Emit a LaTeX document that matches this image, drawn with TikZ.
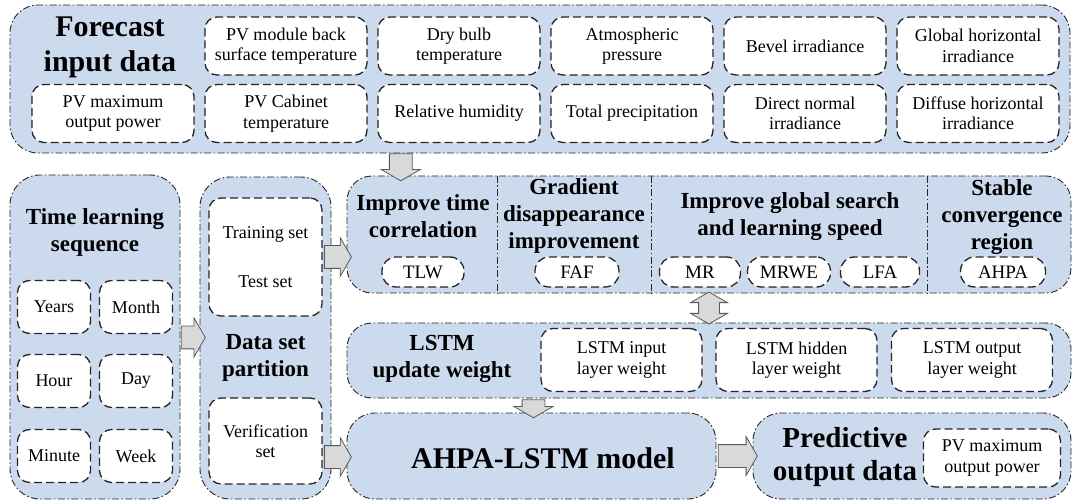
\documentclass[tikz,border=0pt]{standalone}
\usepackage{fontspec}
\setmainfont{LiberationSerif-Regular.ttf}[BoldFont=LiberationSerif-Bold.ttf]
\usepackage{xcolor}
\usepackage{tikz}
\usetikzlibrary{shapes.arrows,positioning,calc}
\definecolor{panelblue}{RGB}{204,218,238}
\definecolor{arrowgray}{RGB}{217,217,217}
\tikzset{
  panel/.style={draw=black!85, line width=0.9pt, fill=panelblue,
                dash pattern=on 7pt off 2.5pt on 1.5pt off 2.5pt,
                rounded corners=28pt, inner sep=0pt},
  item/.style={draw=black!85, line width=1.3pt, dash pattern=on 8pt off 4pt,
               fill=white, rounded corners=12pt, align=center, inner sep=0pt,
               font=\fontsize{18}{20.5}\selectfont},
  pill/.style={item, rounded corners=14pt, minimum height=30pt,
               font=\fontsize{19}{21}\selectfont},
  heading/.style={align=center, font=\bfseries\fontsize{23}{27}\selectfont},
  bigheading/.style={align=center, font=\bfseries\fontsize{30}{35}\selectfont},
  divider/.style={draw=black!85, line width=0.8pt,
                  dash pattern=on 7pt off 2.5pt on 1.5pt off 2.5pt},
  blockarrow/.style={single arrow, draw=black!65, fill=arrowgray, line width=0.8pt,
                     inner xsep=0pt, inner ysep=11pt, single arrow head extend=8pt,
                     single arrow tip angle=120},
  downarrow/.style={blockarrow, shape border rotate=270, inner xsep=11pt, inner ysep=0pt},
  twoarrow/.style={double arrow, draw=black!65, fill=arrowgray, line width=0.8pt,
                   shape border rotate=90, inner xsep=10pt, inner ysep=0pt,
                   double arrow head extend=8pt, double arrow tip angle=120}
}
\begin{document}
\begin{tikzpicture}[x=1pt, y=-1pt]
  \useasboundingbox (0,0) rectangle (1073,502);
  % panels
  \node[panel, minimum width=1060pt, minimum height=148pt] (fid) at (540,79) {};
  \node[panel, minimum width=170pt, minimum height=324pt, rounded corners=30pt] (tls) at (95,337) {};
  \node[panel, minimum width=131pt, minimum height=322pt, rounded corners=30pt] (dsp) at (265.5,338) {};
  \node[panel, minimum width=724pt, minimum height=117pt, rounded corners=25pt] (imp) at (709,234.5) {};
  \node[panel, minimum width=724pt, minimum height=75pt, rounded corners=25pt] (lstm) at (709,360.5) {};
  \node[panel, minimum width=369pt, minimum height=86pt] (model) at (531.5,456) {};
  \node[panel, minimum width=318pt, minimum height=86pt] (pred) at (912,456) {};

  % forecast input data
  \node[bigheading] (fidt) at (110,47) {Forecast\\input data};
  \foreach \n/\x/\t in {pvb/286/{PV module back\\surface temperature},
                        dbt/459/{Dry bulb\\temperature},
                        atp/632/{Atmospheric\\pressure},
                        bev/805/{Bevel irradiance},
                        ghi/978/{Global horizontal\\irradiance}}
    \node[item, minimum width=162pt, minimum height=58pt] (\n) at (\x,46) {\t};
  \foreach \n/\x/\t in {pvm/113/{PV maximum\\output power},
                        pvc/286/{PV Cabinet\\temperature},
                        rhu/459/{Relative humidity},
                        tpr/632/{Total precipitation},
                        dni/805/{Direct normal\\irradiance},
                        dhi/978/{Diffuse horizontal\\irradiance}}
    \node[item, minimum width=162pt, minimum height=58pt] (\n) at (\x,113.5) {\t};

  % time learning sequence
  \node[heading] (tlst) at (95,232) {Time learning\\sequence};
  \foreach \n/\x/\y/\t in {yrs/54/307/Years, mon/136/307/Month,
                           hou/54/381/Hour, day/136/381/Day,
                           min/54/456/Minute, wee/136/456/Week}
    \node[item, minimum width=73pt, minimum height=53pt] (\n) at (\x,\y) {\t};

  % data set partition
  \node[item, minimum width=113pt, minimum height=118pt] (train) at (265.5,257) {Training set\\[28pt]Test set};
  \node[heading] (dspt) at (265.5,358) {Data set\\partition};
  \node[item, minimum width=113pt, minimum height=86pt] (verif) at (265.5,441) {Verification\\set};

  % improvements
  \foreach \x in {497,651,927}
    \draw[divider] (\x,0 |- imp.north) -- (\x,0 |- imp.south);
  \node[heading] (tct) at (423,216) {Improve time\\correlation};
  \node[heading] (gdt) at (574,216) {Gradient\\disappearance\\improvement};
  \node[heading] (gst) at (790,217) {Improve global search\\and learning speed};
  \node[heading] (sct) at (1002,217) {Stable\\convergence\\region};
  \foreach \n/\x/\w/\t in {tlw/423/82/TLW, faf/577/84/FAF, mr/700/81/MR,
                           mrwe/789/83/MRWE, lfa/880/79/LFA, ahpa/1003/85/AHPA}
    \node[pill, minimum width=\w pt] (\n) at (\x,272) {\t};

  % lstm update weight
  \node[heading] (lstmt) at (442,359) {LSTM\\update weight};
  \foreach \n/\x/\t in {liw/621.5/{LSTM input\\layer weight},
                        lhw/796.5/{LSTM hidden\\layer weight},
                        low/972/{LSTM output\\layer weight}}
    \node[item, minimum width=161pt, minimum height=63pt] (\n) at (\x,360) {\t};

  % model and output
  \node[bigheading] (modelt) at (543,458) {AHPA-LSTM model};
  \node[align=center, font=\bfseries\fontsize{29}{33}\selectfont] (predt) at (845,457) {Predictive\\output data};
  \node[item, minimum width=137pt, minimum height=58pt] (pvo) at (992,458) {PV maximum\\output power};

  % block arrows
  \node[downarrow, minimum height=27pt] (a1) at ($(fid.south)!.5!(dsp.north)+(-2,-1)$) {};
  \node[blockarrow, minimum height=24pt] (a2) at ($(tls.east)!.5!(dsp.west)$) {};
  \node[blockarrow, minimum height=27pt] (a3) at ($(train.east)!.5!(train.east -| imp.west)$) {};
  \node[blockarrow, minimum height=27pt] (a4) at ($(verif.east)!.5!(verif.east -| model.west)+(0,16)$) {};
  \node[twoarrow, minimum height=32pt] (a5) at ($(imp.south)!.5!(lstm.north)$) {};
  \node[downarrow, minimum height=18pt] (a6) at ($(lstm.south -| model.north)!.5!(model.north)+(2,0)$) {};
  \node[blockarrow, minimum height=39pt] (a7) at ($(model.east)!.5!(pred.west)$) {};
\end{tikzpicture}
\end{document}
